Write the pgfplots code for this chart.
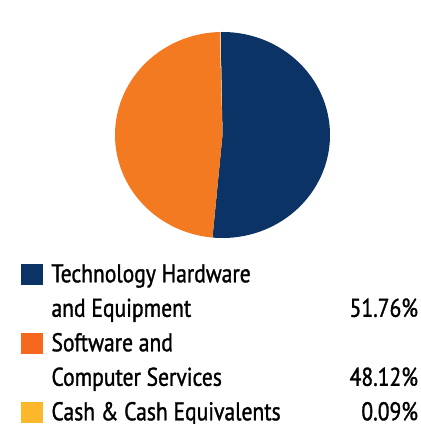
\documentclass[border=0pt]{standalone}
\usepackage{pgfplots}
\pgfplotsset{compat=1.18}
\usepgfplotslibrary{polar}
\usepackage{fontspec}
\setmainfont{PT Sans}[FakeStretch=0.84,FakeBold=1.2]
\definecolor{navy}{HTML}{0C3366}
\definecolor{orng}{HTML}{F47A22}
\definecolor{yell}{HTML}{FDB72B}
% shares in percent
\def\vA{51.76}
\def\vB{48.12}
\def\vC{0.09}
\pgfmathsetmacro\aStart{91}
\pgfmathsetmacro\aA{\aStart-\vA*3.6}
\pgfmathsetmacro\aB{\aA-\vB*3.6}
\pgfmathsetmacro\aC{\aB-\vC*3.6}
\begin{document}
\begin{tikzpicture}
\path[use as bounding box] (0bp,0bp) rectangle (421bp,424bp);
\begin{polaraxis}[
  at={(222.5bp,289bp)}, anchor=center,
  scale only axis, width=215bp, height=206bp,
  hide axis, clip=false,
  ymin=0, ymax=1, xmin=0, xmax=360,
]
\addplot[fill=navy, draw=none, domain=\aA:\aStart, samples=200] {1} -- (axis cs:0,0) -- cycle;
\addplot[fill=orng, draw=none, domain=\aB:\aA, samples=200] {1} -- (axis cs:0,0) -- cycle;
\addplot[fill=yell!60!white, draw=none, domain=\aC:\aB, samples=3] {1} -- (axis cs:0,0) -- cycle;
\end{polaraxis}
\begin{axis}[
  at={(0bp,0bp)}, anchor=south west,
  scale only axis, width=421bp, height=424bp,
  hide axis, xmin=0, xmax=1, ymin=0, ymax=1,
  legend image code/.code={\fill[#1] (0bp,-3bp) rectangle (22bp,18.5bp);},
  legend style={at={(0.04988,0.39316)}, anchor=north west,
    draw=none, fill=none, inner sep=0pt, outer sep=0pt,
    row sep=0pt, column sep=8.5bp,
    font=\fontsize{25.7bp}{34.5bp}\selectfont,
    cells={anchor=base west},
    nodes={inner sep=0pt, outer sep=0pt, text height=25bp, text depth=9.5bp}},
]
\addlegendimage{fill=navy, draw=none}
\addlegendentry{\makebox[366.5bp][l]{Technology Hardware}}
\addlegendimage{empty legend}
\addlegendentry{\makebox[366.5bp]{and Equipment\hfill 51.76\%}}
\addlegendimage{fill=orng!85!red, draw=none}
\addlegendentry{\makebox[366.5bp][l]{Software and}}
\addlegendimage{empty legend}
\addlegendentry{\makebox[366.5bp]{Computer Services\hfill 48.12\%}}
\addlegendimage{fill=yell, draw=none}
\addlegendentry{\makebox[366.5bp]{Cash \& Cash Equivalents\hfill 0.09\%}}
\end{axis}
\end{tikzpicture}
\end{document}
